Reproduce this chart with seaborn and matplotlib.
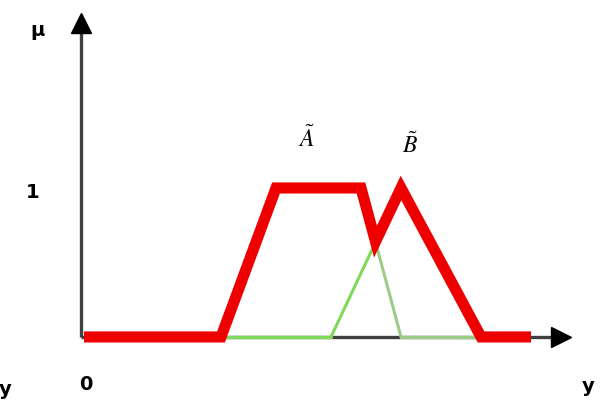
import numpy as np
import seaborn as sns
import matplotlib.pyplot as plt

sns.set_style("white")
plt.rcParams['mathtext.fontset'] = 'stix'

# membership functions (x in arbitrary units, mu in [0, 1])
a_x = [14, 19.5, 28, 32]
a_mu = [0, 1, 1, 0]
b_x = [25, 32, 40]
b_mu = [0, 1, 0]

# union of A and B (outer envelope)
union_x = [0.3, 14, 19.5, 28, 29.45, 32, 40, 45]
union_mu = [0, 0, 1, 1, 0.64, 1, 0, 0]

fig = plt.figure(figsize=(6.04, 4.01), dpi=100)
ax = fig.add_axes([0, 0, 1, 1])
ax.set_xlim(-8.1, 52.3)
ax.set_ylim(-0.43, 2.262)
ax.axis('off')

# axes lines with black arrow heads
ax.plot([0, 0], [0, 2.05], color='#404040', lw=2.4, zorder=1, solid_capstyle='butt')
ax.plot([0, 47.5], [0, 0], color='#404040', lw=2.4, zorder=1, solid_capstyle='butt')
ax.plot([0], [2.107], marker='^', ms=15, color='black', zorder=4)
ax.plot([48.0], [0], marker='>', ms=15, color='black', zorder=4)

# green parts of A and B
ax.plot([a_x[0], b_x[0]], [0, 0], color='#7fd95a', lw=2.4, zorder=2)
ax.plot([a_x[3], b_x[2]], [0, 0], color='#9ccc88', lw=2.4, zorder=2)
sns.lineplot(x=a_x[2:], y=a_mu[2:], color='#9ccc88', lw=2.2, ax=ax, sort=False, zorder=2)
sns.lineplot(x=b_x[:2], y=b_mu[:2], color='#7fd95a', lw=2.2, ax=ax, sort=False, zorder=2)

# union in red
sns.lineplot(x=union_x, y=union_mu, color='#ee0000', lw=8, ax=ax, sort=False,
             solid_joinstyle='miter', solid_capstyle='butt', zorder=3)

# labels
kw = dict(fontsize=14, fontweight='bold', ha='center', va='center', color='black')
ax.text(-4.3, 2.06, 'μ', **kw)
ax.text(-4.8, 0.97, '1', **kw)
ax.text(0.5, -0.32, '0', **kw)
ax.text(-7.6, -0.35, 'y', **kw)
ax.text(50.7, -0.33, 'y', **kw)
ax.text(22.5, 1.33, r'$\tilde{A}$', fontsize=17, ha='center', va='center', color='black')
ax.text(32.9, 1.29, r'$\tilde{B}$', fontsize=17, ha='center', va='center', color='black')

fig.savefig('out.png', dpi=100)
